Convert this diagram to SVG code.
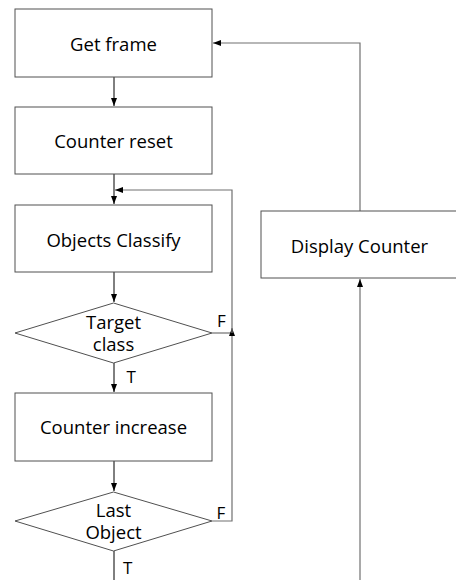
<svg xmlns="http://www.w3.org/2000/svg" width="456" height="580" viewBox="0 0 456 580">
<style>
.box{fill:#fff;stroke:#505050;stroke-width:1}
.t{font-family:"Open Sans","Noto Sans",sans-serif;font-size:18.5px;fill:#000;text-anchor:middle}
.lbl{font-family:"Open Sans","Noto Sans",sans-serif;font-size:17px;fill:#000}
.c{fill:none;stroke:#000;stroke-width:1}
.g{fill:none;stroke:#707070;stroke-width:1.2}
</style>
<defs>
<marker id="ah" viewBox="0 0 8 8" refX="8" refY="4" markerWidth="8" markerHeight="8" markerUnits="userSpaceOnUse" orient="auto">
<path d="M0,1 L8,4 L0,7 Z" fill="#000"/>
</marker>
</defs>
<rect width="456" height="580" fill="#fff"/>
<g id="connectors">
<path class="c" d="M114,77 V106" marker-end="url(#ah)"/>
<path class="c" d="M114,174 V204" marker-end="url(#ah)"/>
<path class="c" d="M114,272 V302" marker-end="url(#ah)"/>
<path class="c" d="M114,363 V392" marker-end="url(#ah)"/>
<path class="c" d="M114,461 V491" marker-end="url(#ah)"/>
<path class="c" d="M114,551 V580"/>
<path class="g" d="M212,333 H232"/>
<path class="g" d="M212,521 H232 V328" marker-end="url(#ah)"/>
<path class="g" d="M232,333 V190 H115" marker-end="url(#ah)"/>
<path class="g" d="M360,580 V279" marker-end="url(#ah)"/>
<path class="g" d="M360,211 V43 H213" marker-end="url(#ah)"/>
</g>
<g id="get-frame">
<rect class="box" x="15" y="9" width="197" height="68"/>
<text class="t" x="113.5" y="50.5">Get frame</text>
</g>
<g id="counter-reset">
<rect class="box" x="15" y="107" width="197" height="67"/>
<text class="t" x="113.5" y="148">Counter reset</text>
</g>
<g id="objects-classify">
<rect class="box" x="15" y="205" width="197" height="67"/>
<text class="t" x="113.5" y="246.5">Objects Classify</text>
</g>
<g id="target-class">
<polygon class="box" points="15,333 113.5,303 212,333 113.5,363"/>
<text class="t" x="113.5" y="328.5">Target</text>
<text class="t" x="113.5" y="350.5">class</text>
<text class="lbl" x="217" y="327">F</text>
<text class="lbl" x="126.5" y="383">T</text>
</g>
<g id="counter-increase">
<rect class="box" x="15" y="393" width="197" height="68"/>
<text class="t" x="113.5" y="434">Counter increase</text>
</g>
<g id="last-object">
<polygon class="box" points="15,521 113.5,492 212,521 113.5,551"/>
<text class="t" x="113.5" y="516.5">Last</text>
<text class="t" x="113.5" y="539">Object</text>
<text class="lbl" x="216.5" y="518.5">F</text>
<text class="lbl" x="123" y="573.5">T</text>
</g>
<g id="display-counter">
<rect class="box" x="261" y="211" width="200" height="67"/>
<text class="t" x="359.5" y="252.5">Display Counter</text>
</g>
</svg>
